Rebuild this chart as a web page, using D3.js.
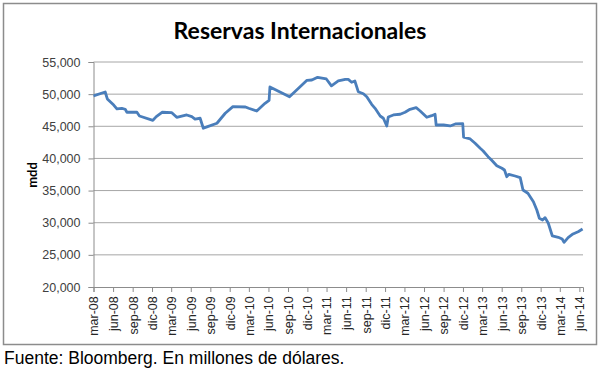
<!DOCTYPE html>
<html><head><meta charset="utf-8">
<script src="https://cdn.jsdelivr.net/npm/d3@7"></script>
<style>body{margin:0;background:#fff}svg{display:block}</style>
</head><body>
<svg id="c" width="600" height="379"></svg>
<script>
const dates = ["2008-03-01","2008-04-25","2008-05-05","2008-06-04","2008-06-19","2008-07-12","2008-07-28","2008-08-05","2008-09-21","2008-10-03","2008-12-05","2008-12-21","2009-01-17","2009-03-04","2009-03-27","2009-05-13","2009-06-06","2009-06-21","2009-07-15","2009-07-30","2009-08-16","2009-10-02","2009-11-10","2009-12-16","2010-02-13","2010-02-28","2010-04-07","2010-05-16","2010-06-04","2010-06-08","2010-09-08","2010-11-29","2010-12-22","2011-01-18","2011-02-28","2011-03-24","2011-04-25","2011-05-28","2011-06-11","2011-06-27","2011-07-12","2011-07-28","2011-08-21","2011-09-06","2011-09-29","2011-10-15","2011-11-08","2011-11-23","2011-12-09","2011-12-16","2012-01-09","2012-02-10","2012-03-04","2012-03-27","2012-04-25","2012-05-14","2012-06-14","2012-07-07","2012-07-23","2012-07-28","2012-09-01","2012-10-02","2012-10-26","2012-11-30","2012-12-04","2013-01-04","2013-01-27","2013-02-20","2013-03-06","2013-03-29","2013-04-14","2013-05-09","2013-06-02","2013-06-14","2013-06-25","2013-07-05","2013-08-03","2013-08-27","2013-09-09","2013-10-02","2013-10-28","2013-11-13","2013-11-25","2013-12-10","2013-12-22","2014-01-06","2014-01-25","2014-02-22","2014-03-12","2014-03-21","2014-04-09","2014-05-02","2014-05-26","2014-06-16"];
const reservas = [49740,50330,49250,48300,47700,47800,47650,47180,47180,46600,45930,46500,47180,47120,46400,46760,46500,46130,46250,44700,44900,45470,47030,48050,48000,47800,47380,48570,49040,51110,49600,52150,52200,52620,52360,51300,52050,52300,52300,51840,52050,50380,50070,49600,48420,47800,46600,46250,45050,46450,46760,46870,47180,47640,47890,47380,46400,46650,46870,45200,45200,45050,45360,45400,43300,43030,42360,41580,41160,40270,39760,38870,38470,38200,37160,37530,37270,37010,35090,34580,33270,31980,30690,30430,30790,29910,27940,27730,27470,26950,27670,28250,28600,29020];
const yTicks = [20000,25000,30000,35000,40000,45000,50000,55000];
const monthNames = ["ene","feb","mar","abr","may","jun","jul","ago","sep","oct","nov","dic"];
const title = "Reservas Internacionales";
const yLabel = "mdd";
const source = "Fuente: Bloomberg. En millones de dólares.";

const parse = d3.timeParse("%Y-%m-%d");
const data = dates.map((d,i)=>({date:parse(d), v:reservas[i]}));
const svg = d3.select("#c");

svg.append("rect").attr("x",3.5).attr("y",3.5).attr("width",593).attr("height",341)
  .attr("fill","#fff").attr("stroke","#8c8c8c").attr("stroke-width",1.5);

const L=93.5, R=583, T=62, B=287;
const x = d3.scaleTime().domain([new Date(2008,2,1), new Date(2014,5,18)]).range([L,R]);
const y = d3.scaleLinear().domain([20000,55000]).range([B,T]);

// gridlines
svg.append("g").selectAll("line").data(yTicks.filter(t=>t>20000)).join("line")
  .attr("x1",L).attr("x2",R).attr("y1",d=>y(d)).attr("y2",d=>y(d))
  .attr("stroke","#a6a6a6").attr("stroke-width",1);

// y axis
const ya = svg.append("g").attr("transform",`translate(${L},0)`)
  .call(d3.axisLeft(y).tickValues(yTicks).tickFormat(d3.format(",")).tickSize(5).tickPadding(8));
ya.select(".domain").attr("stroke","#8c8c8c");
ya.selectAll(".tick line").attr("stroke","#8c8c8c");
ya.selectAll("text").attr("font-family","Liberation Sans, Arial, sans-serif").attr("font-size",12.5).attr("fill","#404040");

// x axis
const xTicks = [];
for (let yr=2008; yr<=2014; yr++) for (const m of [2,5,8,11]) {
  const d = new Date(yr,m,1); if (d<=new Date(2014,5,1)) xTicks.push(d);
}
const xa = svg.append("g").attr("transform",`translate(0,${B})`)
  .call(d3.axisBottom(x).tickValues(xTicks).tickSize(5)
    .tickFormat(d=>monthNames[d.getMonth()]+"-"+String(d.getFullYear()).slice(2)));
xa.select(".domain").attr("stroke","#8c8c8c");
xa.selectAll(".tick line").attr("stroke","#8c8c8c");
xa.selectAll("text").attr("font-family","Liberation Sans, Arial, sans-serif").attr("font-size",12.5).attr("fill","#262626")
  .attr("transform","rotate(-90)").attr("text-anchor","end").attr("dx","-0.5em").attr("dy","0.35em").attr("y",0).attr("x",-3);

// line
svg.append("path").datum(data)
  .attr("d", d3.line().x(d=>x(d.date)).y(d=>y(d.v)))
  .attr("fill","none").attr("stroke","#4a7ebb").attr("stroke-width",2.8).attr("stroke-linejoin","round");

// title
svg.append("text").attr("x",300).attr("y",39).attr("text-anchor","middle")
  .attr("font-family","Lato, 'Open Sans', sans-serif").attr("font-weight","bold").attr("font-size",23)
  .attr("fill","#000").text(title);

// y label
svg.append("text").attr("transform","translate(37,175) rotate(-90)").attr("text-anchor","middle")
  .attr("font-family","Lato, sans-serif").attr("font-weight","bold").attr("font-size",13).text(yLabel);

// source
svg.append("text").attr("x",4).attr("y",364)
  .attr("font-family","Liberation Sans, Arial, sans-serif").attr("font-size",17.5).attr("fill","#000").text(source);
</script>
</body></html>
